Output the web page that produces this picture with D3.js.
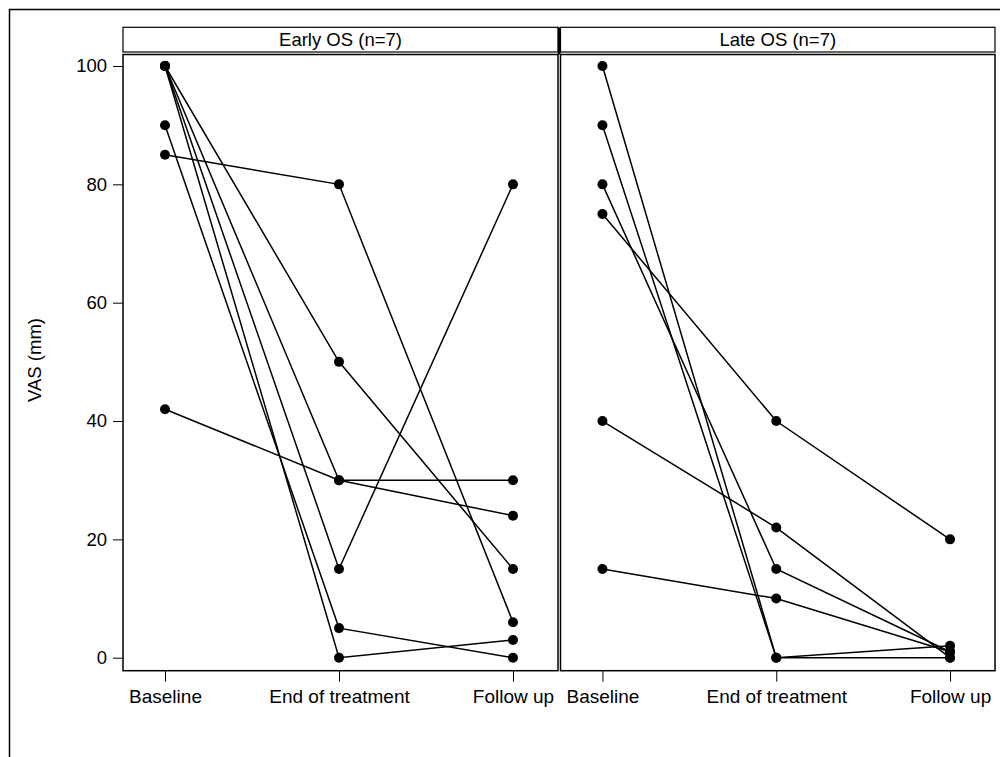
<!DOCTYPE html>
<html><head><meta charset="utf-8">
<script src="https://cdn.jsdelivr.net/npm/d3@7"></script>
<style>body{margin:0;background:#fff}svg{display:block}text{font-family:"Liberation Sans",Arial,sans-serif;fill:#000}</style>
</head><body><svg id="c" width="1000" height="757"></svg>
<script>
const timepoints = ["Baseline", "End of treatment", "Follow up"];
const panelTitles = ["Early OS (n=7)", "Late OS (n=7)"];
const yTicks = [0, 20, 40, 60, 80, 100];
const yLabel = "VAS (mm)";
// each subject: [Baseline, End of treatment, Follow up]
const earlyOS = [
  [100, 50, 15],
  [100, 30, 30],
  [100, 15, 80],
  [100, 0, 3],
  [90, 5, 0],
  [85, 80, 6],
  [42, 30, 24]
];
const lateOS = [
  [100, 0, 0],
  [90, 0, 2],
  [80, 15, 1],
  [75, 40, 20],
  [40, 22, 0],
  [15, 10, 1]
];

(function () {
const svg = d3.select("#c");
svg.append("rect").attr("x", 9.5).attr("y", 9.5).attr("width", 1010).attr("height", 760)
  .attr("fill", "none").attr("stroke", "#000").attr("stroke-width", 1.5);

const plotTop = 54.5, plotBot = 670.7, headTop = 27.3, headBot = 52;
const y = d3.scaleLinear().domain([0, 100]).range([657.7, 66]);

const panels = [
  {x0: 123, x1: 558, data: earlyOS, title: panelTitles[0]},
  {x0: 560.5, x1: 995, data: lateOS, title: panelTitles[1]}
];

panels.forEach((p, i) => {
  const x = d3.scalePoint().domain(timepoints).range([p.x0 - 1.5, p.x1 - 1.5]).padding(0.25);
  const g = svg.append("g");
  g.append("rect").attr("x", p.x0).attr("y", headTop).attr("width", p.x1 - p.x0).attr("height", headBot - headTop)
    .attr("fill", "#fff").attr("stroke", "#000").attr("stroke-width", 1.2);
  g.append("line").attr("x1", p.x0).attr("x2", p.x1).attr("y1", plotTop).attr("y2", plotTop)
    .attr("stroke", "#000").attr("stroke-width", 1.2);
  g.append("text").attr("x", (p.x0 + p.x1) / 2).attr("y", headTop + 19).attr("text-anchor", "middle")
    .attr("font-size", 18.5).text(p.title);
  g.append("rect").attr("x", p.x0).attr("y", plotTop).attr("width", p.x1 - p.x0).attr("height", plotBot - plotTop)
    .attr("fill", "none").attr("stroke", "#000").attr("stroke-width", 1.5);
  const xa = g.append("g").attr("transform", `translate(0,${plotBot})`)
    .call(d3.axisBottom(x).tickSize(11).tickPadding(8));
  xa.select(".domain").remove();
  xa.selectAll("line").attr("stroke", "#000").attr("stroke-width", 1);
  xa.selectAll("text").attr("font-size", 19).style("font-family", '"Liberation Sans",Arial,sans-serif').attr("fill", "#000");
  if (i === 0) {
    const ya = g.append("g").attr("transform", `translate(${p.x0},0)`)
      .call(d3.axisLeft(y).tickValues(yTicks).tickSize(10).tickPadding(6));
    ya.select(".domain").remove();
    ya.selectAll("line").attr("stroke", "#000").attr("stroke-width", 1);
    ya.selectAll("text").attr("font-size", 18.5).style("font-family", '"Liberation Sans",Arial,sans-serif').attr("fill", "#000");
  }
  const line = d3.line().x((d, j) => x(timepoints[j])).y(d => y(d));
  g.selectAll("path.subj").data(p.data).join("path").attr("class", "subj")
    .attr("d", line).attr("fill", "none").attr("stroke", "#000").attr("stroke-width", 1.5);
  p.data.forEach(s => {
    g.selectAll(null).data(s).join("circle")
      .attr("cx", (d, j) => x(timepoints[j])).attr("cy", d => y(d)).attr("r", 5).attr("fill", "#000");
  });
});
svg.append("line").attr("x1", 559.2).attr("x2", 559.2).attr("y1", headTop).attr("y2", plotTop)
  .attr("stroke", "#000").attr("stroke-width", 2.6);

svg.append("text").attr("transform", `translate(41,360) rotate(-90)`).attr("text-anchor", "middle")
  .attr("font-size", 18.5).text(yLabel);
})();
</script></body></html>
